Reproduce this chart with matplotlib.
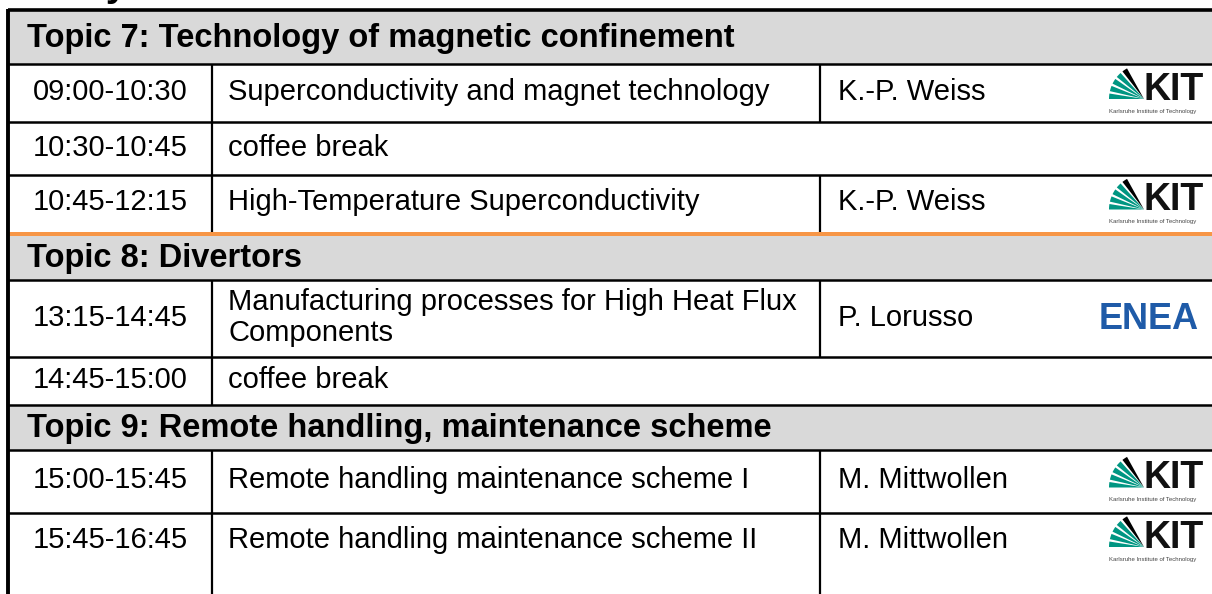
import matplotlib.pyplot as plt
from matplotlib.patches import Rectangle, Wedge

plt.rcParams['font.family'] = ['Liberation Sans', 'DejaVu Sans']

# table content
kinds = ["topic", "talk", "break", "talk", "topic", "talk", "break", "topic", "talk", "talk"]
times = ["", "09:00-10:30", "10:30-10:45", "10:45-12:15", "", "13:15-14:45",
         "14:45-15:00", "", "15:00-15:45", "15:45-16:45"]
titles = ["Topic 7: Technology of magnetic confinement",
          "Superconductivity and magnet technology",
          "coffee break",
          "High-Temperature Superconductivity",
          "Topic 8: Divertors",
          "Manufacturing processes for High Heat Flux\nComponents",
          "coffee break",
          "Topic 9: Remote handling, maintenance scheme",
          "Remote handling maintenance scheme I",
          "Remote handling maintenance scheme II"]
speakers = ["", "K.-P. Weiss", "", "K.-P. Weiss", "", "P. Lorusso", "", "",
            "M. Mittwollen", "M. Mittwollen"]
logos = ["", "KIT", "", "KIT", "", "ENEA", "", "", "KIT", "KIT"]

# layout (pixels)
W, H = 1212, 594
row_h = [54, 58, 53, 57, 44, 77, 48, 45, 63, 56]
top0 = 10
orange_after = 3      # orange rule below this row
x_left, x_c1, x_c2 = 8, 212, 820

fig = plt.figure(figsize=(W / 100, H / 100), dpi=100)
ax = fig.add_axes([0, 0, 1, 1])
ax.set_xlim(0, W)
ax.set_ylim(H, 0)
ax.axis("off")

fs = 21
fs_head = 23.5
gray = "#d9d9d9"
kit_green = "#009682"
enea_blue = "#1f5ba8"


def kit_logo(xr, yc):
    # fan + letters, anchored at right edge xr, row centre yc
    ox, oy = xr - 58, yc + 5
    angs = [(180, 189), (193, 202), (206, 215), (219, 228)]
    for a0, a1 in angs:
        ax.add_patch(Wedge((ox, oy), 35, a0, a1, color=kit_green, lw=0))
    ax.add_patch(Wedge((ox, oy), 35, 232, 241, color="black", lw=0))
    ax.text(ox - 1, oy + 1, "KIT", fontsize=27, fontweight="bold", ha="left",
            va="baseline", color="#111111")
    ax.text(ox - 35, oy + 12, "Karlsruhe Institute of Technology", fontsize=4.3,
            ha="left", va="center", color="#444444")


def enea_logo(xr, yc):
    ax.text(xr, yc, "ENEA", fontsize=26, fontweight="bold", color=enea_blue,
            ha="right", va="center")


# heading above the table, only its descender shows in the crop
ax.text(128, -4, "Day", fontsize=28, fontweight="bold", ha="right", va="baseline")

y = top0
bounds = []
for i, k in enumerate(kinds):
    y0, y1 = y, y + row_h[i]
    bounds.append((y0, y1))
    y = y1 + (4 if i == orange_after else 0)

for i, k in enumerate(kinds):
    y0, y1 = bounds[i]
    yc = (y0 + y1) / 2
    ybot = H if i == len(kinds) - 1 else y1
    if k == "topic":
        ax.add_patch(Rectangle((x_left, y0), W - x_left, y1 - y0, color=gray, lw=0))
        ax.text(27, yc + 1, titles[i], fontsize=fs_head, fontweight="bold",
                ha="left", va="center")
    else:
        ax.text((x_left + x_c1) / 2, yc - 1, times[i], fontsize=fs, ha="center", va="center")
        ax.text(228, yc - 1, titles[i], fontsize=fs, ha="left", va="center", linespacing=1.12)
        ax.plot([x_c1, x_c1], [y0, ybot], color="black", lw=1.6, solid_capstyle="butt")
        if k == "talk":
            ax.plot([x_c2, x_c2], [y0, ybot], color="black", lw=1.6, solid_capstyle="butt")
            ax.text(838, yc - 1, speakers[i], fontsize=fs, ha="left", va="center")
            if logos[i] == "KIT":
                kit_logo(1202, yc + 1)
            elif logos[i] == "ENEA":
                enea_logo(1199, yc + 1)

# horizontal rules
for i in range(len(kinds) - 1):
    yb = bounds[i][1]
    if i == orange_after:
        ax.add_patch(Rectangle((x_left, yb), W - x_left, 4, color="#f79646", lw=0))
    else:
        ax.plot([x_left, W], [yb, yb], color="black", lw=1.8, solid_capstyle="butt")

# outer border
ax.plot([x_left, W], [top0, top0], color="black", lw=2.6, solid_capstyle="butt")
ax.plot([x_left, x_left], [top0 - 1, H], color="black", lw=2.8, solid_capstyle="butt")

fig.savefig("out.png", dpi=100)
